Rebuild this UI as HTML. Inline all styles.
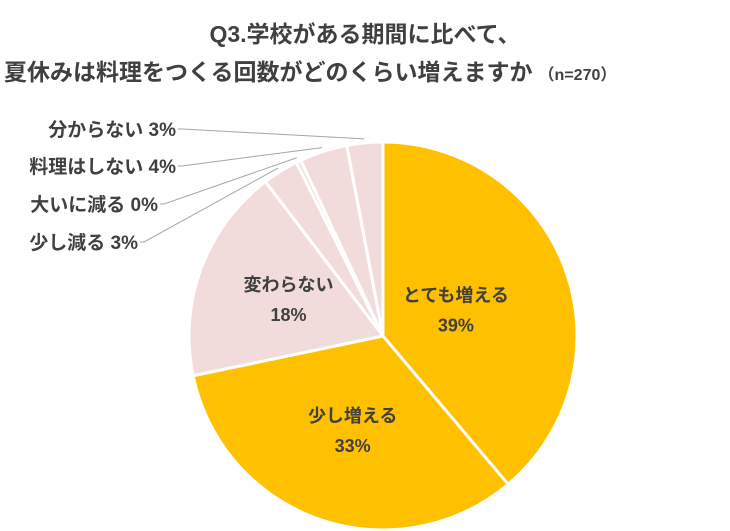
<!DOCTYPE html>
<html><head><meta charset="utf-8"><style>
body{margin:0;background:#fff;}
svg{display:block;font-family:"Liberation Sans","Noto Sans CJK JP",sans-serif;}
</style></head><body>
<svg width="730" height="531" viewBox="0 0 730 531">
<text x="365" y="42" text-anchor="middle" font-size="23" font-weight="bold" fill="#404040">Q3.学校がある期間に比べて、</text>
<text x="4" y="80" font-size="23" font-weight="bold" fill="#404040">夏休みは料理をつくる回数がどのくらい増えますか<tspan font-size="16" dx="6">（n=270）</tspan></text>
<g id="slices"></g>
<g id="labels"></g>
</svg>
<script>
const categories=["とても増える","少し増える","変わらない","少し減る","大いに減る","料理はしない","分からない"];
const values=[39,33,18,3,0.4,4,3];
const valueLabels=["39%","33%","18%","3%","0%","4%","3%"];
const colors=["#FFC000","#FFC000","#F2DCDB","#F2DCDB","#F2DCDB","#F2DCDB","#F2DCDB"];
const cx=383,cy=336,r=194;
const ns="http://www.w3.org/2000/svg";
const total=values.reduce((a,b)=>a+b,0);
function pt(a,rr){return [cx+rr*Math.sin(a),cy-rr*Math.cos(a)];}
const gs=document.getElementById('slices'),gl=document.getElementById('labels');
let acc=0;const mids=[];
values.forEach((v,i)=>{
  const a0=acc/total*2*Math.PI;acc+=v;const a1=acc/total*2*Math.PI;
  mids.push((a0+a1)/2);
  const p0=pt(a0,r),p1=pt(a1,r);
  const p=document.createElementNS(ns,'path');
  p.setAttribute('d',`M${cx},${cy}L${p0[0]},${p0[1]}A${r},${r} 0 ${a1-a0>Math.PI?1:0} 1 ${p1[0]},${p1[1]}Z`);
  p.setAttribute('fill',colors[i]);p.setAttribute('stroke','#fff');p.setAttribute('stroke-width','3');
  
  
  gs.appendChild(p);
});
function txt(x,y,s,anchor,name,fs){const t=document.createElementNS(ns,'text');
t.setAttribute('x',x);t.setAttribute('y',y);t.setAttribute('text-anchor',anchor);
t.setAttribute('font-size',fs);t.setAttribute('font-weight','bold');t.setAttribute('fill','#404040');
t.textContent=s;


gl.appendChild(t);}
const labelR=[0.40,0.48,0.52];const labelDY=[-8,-2,-10];
[0,1,2].forEach(i=>{const p=pt(mids[i],r*labelR[i]);
txt(p[0],p[1]+labelDY[i],categories[i],'middle','slice-label-'+i,18);
txt(p[0],p[1]+labelDY[i]+30,valueLabels[i],'middle','slice-value-'+i,18);});
const outY=[134,171,209,247];const outX=[178,178,160,140];
[6,5,4,3].forEach((i,k)=>{
  const e=pt(mids[i],r+4);
  const l=document.createElementNS(ns,'polyline');
  l.setAttribute('points',`${outX[k]},${outY[k]-5} ${outX[k]+4},${outY[k]-5} ${e[0]},${e[1]}`);
  l.setAttribute('fill','none');l.setAttribute('stroke','#a6a6a6');l.setAttribute('stroke-width','1');
  
  
  gl.appendChild(l);
  txt(outX[k]-2,outY[k]+2,categories[i]+' '+valueLabels[i],'end','outside-label-'+i,19);
});
</script>
</body></html>
